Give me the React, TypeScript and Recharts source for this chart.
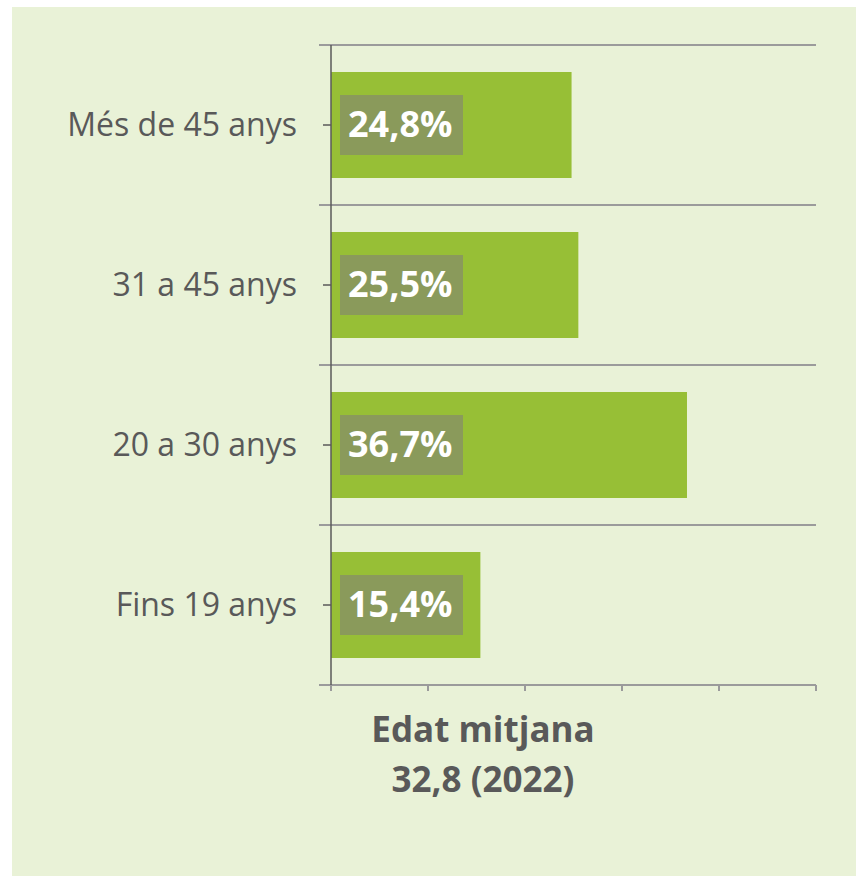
import React from "react";
import { BarChart, Bar, XAxis, YAxis, CartesianGrid, LabelList } from "recharts";

const categories = ["Més de 45 anys", "31 a 45 anys", "20 a 30 anys", "Fins 19 anys"];
const shares = [24.8, 25.5, 36.7, 15.4];
const xTicks = [0, 10, 20, 30, 40, 50];
const titleLines = ["Edat mitjana", "32,8 (2022)"];

const data = categories.map((c, i) => ({ name: c, value: shares[i] }));

const BG = "#E9F2D7";
const BAR = "#97BF36";
const BOX = "#8A9A5B";
const TEXT = "#595959";
const GRID = "#9B9B9B";
const FONT = "'Open Sans'";

const fmt = (v: number) => v.toFixed(1).replace(".", ",") + "%";

const DataLabel = (props: any) => {
  const { x, y, height, value } = props;
  const cy = y + height / 2;
  return (
    <g>
      <rect x={x + 9} y={cy - 30} width={123} height={60} fill={BOX} />
      <text x={x + 17} y={cy + 12} fill="#FFFFFF" fontFamily={FONT} fontWeight="bold" fontSize={36}>
        {fmt(value)}
      </text>
    </g>
  );
};

const GridLine = (props: any) => {
  const { x1, x2, y1, y2 } = props;
  return <line x1={x1 - 12} x2={x2} y1={y1} y2={y2} stroke={GRID} strokeWidth={2} />;
};

const EmptyTick = () => <g />;

export default function App() {
  return (
    <div style={{ position: "absolute", left: 12, top: 7, width: 844, height: 869, background: BG }}>
      <BarChart
        width={844}
        height={869}
        data={data}
        layout="vertical"
        margin={{ top: 38, right: 40, bottom: 181, left: 0 }}
      >
        <CartesianGrid
          vertical={false}
          horizontal={GridLine}
          horizontalCoordinatesGenerator={({ offset }: any) =>
            Array.from({ length: categories.length + 1 }, (_, i) => offset.top + (i * offset.height) / categories.length)
          }
        />
        <XAxis
          type="number"
          domain={[0, 50]}
          ticks={xTicks}
          tick={EmptyTick}
          tickSize={6}
          axisLine={{ stroke: GRID, strokeWidth: 2 }}
          tickLine={{ stroke: GRID, strokeWidth: 2 }}
          height={10}
        />
        <YAxis
          type="category"
          dataKey="name"
          width={319}
          tickSize={8}
          tickMargin={26}
          axisLine={{ stroke: "#5A5A5A", strokeWidth: 1.5 }}
          tickLine={{ stroke: "#5A5A5A", strokeWidth: 1.5 }}
          tick={{ fill: TEXT, fontFamily: FONT, fontSize: 32 }}
        />
        <Bar dataKey="value" fill={BAR} barSize={106} isAnimationActive={false}>
          <LabelList dataKey="value" content={DataLabel} />
        </Bar>
      </BarChart>
      <div
        style={{
          position: "absolute",
          left: 321,
          top: 697,
          width: 300,
          textAlign: "center",
          fontFamily: FONT,
          fontWeight: "bold",
          fontSize: 35,
          lineHeight: "50px",
          color: TEXT,
        }}
      >
        {titleLines.map((t) => (
          <div key={t} style={{ whiteSpace: "nowrap" }}>{t}</div>
        ))}
      </div>
    </div>
  );
}
